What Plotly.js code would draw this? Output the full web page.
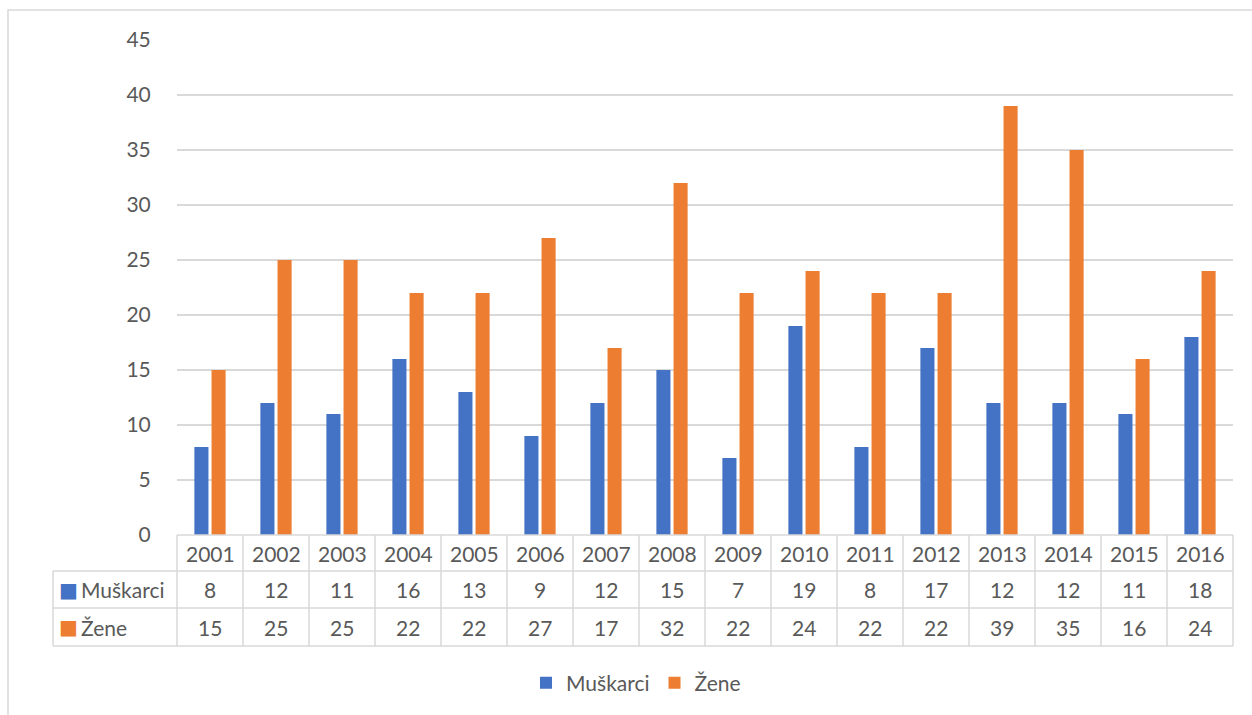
<!DOCTYPE html>
<html>
<head>
<meta charset="utf-8">
<script src="https://cdn.plot.ly/plotly-3.0.1.min.js"></script>
<style>html,body{margin:0;padding:0;background:#fff;}#chart{width:1252px;height:715px;}</style>
</head>
<body>
<div id="chart"></div>
<script>
const years = ["2001","2002","2003","2004","2005","2006","2007","2008","2009","2010","2011","2012","2013","2014","2015","2016"];
const muskarci = [8,12,11,16,13,9,12,15,7,19,8,17,12,12,11,18];
const zene = [15,25,25,22,22,27,17,32,22,24,22,22,39,35,16,24];
const seriesNames = ["Muškarci","Žene"];
const colors = ["#4472C4","#ED7D31"];

const W = 1252, H = 715;
const mL = 177, mR = 19, mT = 40, mB = 180;
const plotH = H - mT - mB;
const plotW = W - mL - mR;
const py = px => (H - mB - px) / plotH;   // pixel y -> paper y
const pxX = px => (px - mL) / plotW;      // pixel x -> paper x

const font = "Lato, 'Open Sans', sans-serif";
const fs = 21;
const txtColor = "#595959";
const gridColor = "#d9d9d9";

const traces = [
  {type:"bar", name:seriesNames[0], x:years, y:muskarci, marker:{color:colors[0]}},
  {type:"bar", name:seriesNames[1], x:years, y:zene, marker:{color:colors[1]}}
];

const rowLines = [535, 571, 608, 646].map(py);
const shapes = [];
const annotations = [];
shapes.push({type:"line", xref:"paper", yref:"paper", x0:0, x1:1, y0:rowLines[0], y1:rowLines[0], line:{color:gridColor, width:1.5}});
for (let r = 1; r < 4; r++) {
  shapes.push({type:"line", xref:"paper", yref:"paper", x0:pxX(53), x1:1, y0:rowLines[r], y1:rowLines[r], line:{color:gridColor, width:1.5}});
}
for (let i = 0; i <= years.length; i++) {
  shapes.push({type:"line", xref:"paper", yref:"paper", x0:i/years.length, x1:i/years.length, y0:rowLines[0], y1:rowLines[3], line:{color:gridColor, width:1.5}});
}
shapes.push({type:"line", xref:"paper", yref:"paper", x0:pxX(53), x1:pxX(53), y0:rowLines[1], y1:rowLines[3], line:{color:gridColor, width:1.5}});
shapes.push({type:"rect", xref:"paper", yref:"paper", x0:pxX(8), x1:pxX(1262), y0:py(10), y1:py(725), line:{color:gridColor, width:1.5}});

years.forEach((yr, i) => {
  annotations.push({xref:"x", yref:"paper", x:i, y:(rowLines[0]+rowLines[1])/2, text:yr, showarrow:false, font:{family:font, size:fs, color:txtColor}, yanchor:"middle"});
  annotations.push({xref:"x", yref:"paper", x:i, y:(rowLines[1]+rowLines[2])/2, text:String(muskarci[i]), showarrow:false, font:{family:font, size:fs, color:txtColor}, yanchor:"middle"});
  annotations.push({xref:"x", yref:"paper", x:i, y:(rowLines[2]+rowLines[3])/2, text:String(zene[i]), showarrow:false, font:{family:font, size:fs, color:txtColor}, yanchor:"middle"});
});
seriesNames.forEach((nm, k) => {
  const yc = (rowLines[k+1]+rowLines[k+2])/2;
  annotations.push({xref:"paper", yref:"paper", x:pxX(68), xanchor:"center", y:yc, yanchor:"middle",
    text:"■", showarrow:false, font:{family:"DejaVu Sans", size:20, color:colors[k]}});
  annotations.push({xref:"paper", yref:"paper", x:pxX(79), xanchor:"left", y:yc, yanchor:"middle",
    text:nm, showarrow:false, font:{family:font, size:fs, color:txtColor}});
});

const layout = {
  width:W, height:H,
  margin:{l:mL, r:mR, t:mT, b:mB, autoexpand:false},
  paper_bgcolor:"#fff", plot_bgcolor:"#fff",
  barmode:"group", bargap:0.48, bargroupgap:0.18,
  showlegend:true,
  legend:{orientation:"h", xref:"container", x:0.508, xanchor:"center", y:py(683), yanchor:"middle",
    font:{family:font, size:fs, color:txtColor}, itemwidth:30, tracegroupgap:0},
  xaxis:{type:"category", range:[-0.5, 15.5], showticklabels:false, showgrid:false, zeroline:false, showline:false, ticks:""},
  yaxis:{range:[0,45], dtick:5, tick0:0, showgrid:true, gridcolor:gridColor, gridwidth:1.5, zeroline:false, showline:false,
    ticks:"outside", ticklen:21, tickcolor:"rgba(0,0,0,0)", tickfont:{family:font, size:fs, color:txtColor}},
  shapes:shapes, annotations:annotations,
  font:{family:font, color:txtColor}
};
Plotly.newPlot("chart", traces, layout, {displayModeBar:false, staticPlot:true});
</script>
</body>
</html>
